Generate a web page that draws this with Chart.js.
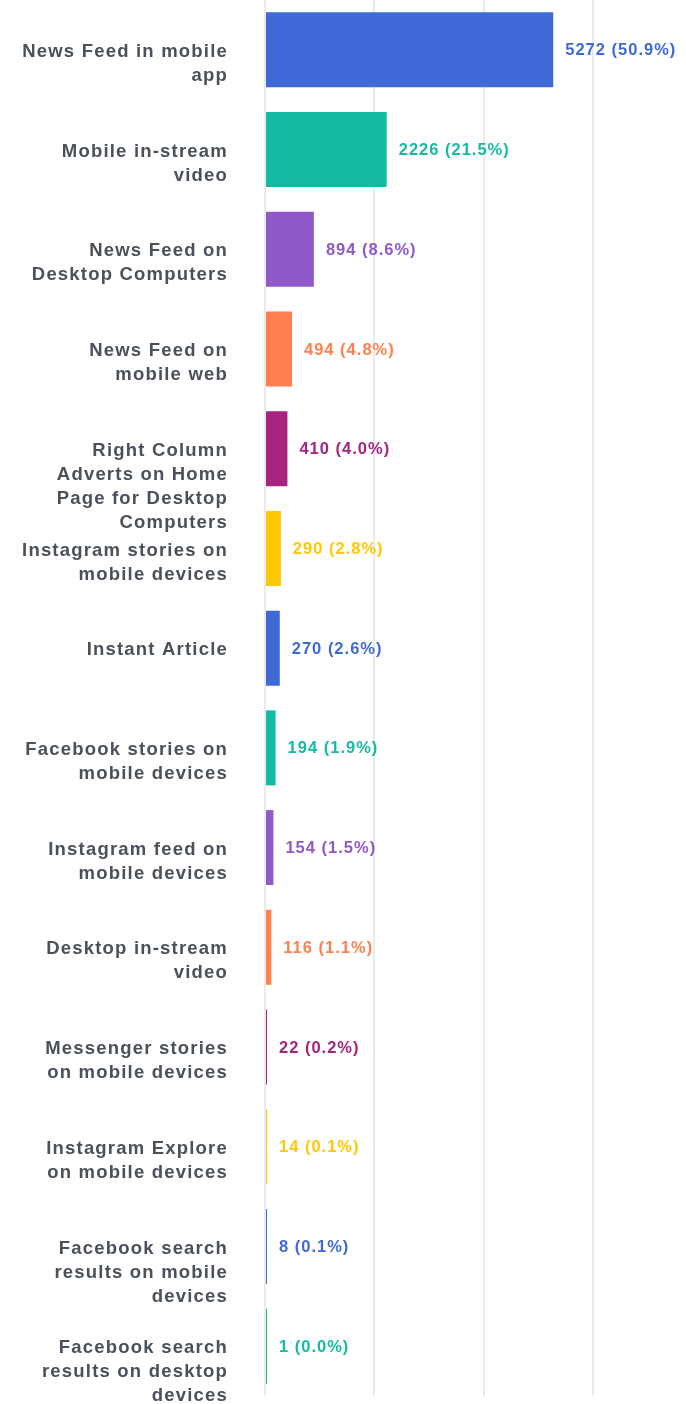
<!DOCTYPE html>
<html><head><meta charset="utf-8">
<script src="https://cdn.jsdelivr.net/npm/chart.js@4"></script>
<style>html,body{margin:0;padding:0;background:#fff}#wrap{width:686px;height:1404px;position:relative}</style>
</head><body><div id="wrap"><canvas id="c"></canvas></div>
<script>
const categories = [
  ["News Feed in mobile","app"],
  ["Mobile in-stream","video"],
  ["News Feed on","Desktop Computers"],
  ["News Feed on","mobile web"],
  ["Right Column","Adverts on Home","Page for Desktop","Computers"],
  ["Instagram stories on","mobile devices"],
  ["Instant Article"],
  ["Facebook stories on","mobile devices"],
  ["Instagram feed on","mobile devices"],
  ["Desktop in-stream","video"],
  ["Messenger stories","on mobile devices"],
  ["Instagram Explore","on mobile devices"],
  ["Facebook search","results on mobile","devices"],
  ["Facebook search","results on desktop","devices"]
];
const values = [5272,2226,894,494,410,290,270,194,154,116,22,14,8,1];
const percents = ["50.9","21.5","8.6","4.8","4.0","2.8","2.6","1.9","1.5","1.1","0.2","0.1","0.1","0.0"];
const palette = ["#3e69d6","#14bba1","#9058c8","#ff7f50","#a6237f","#ffc800"];
const xTicks = [0,2000,4000,6000];

const FONT = '"Liberation Sans", Arial, Helvetica, sans-serif';

const spacingPlugin = {
  id: 'spacing',
  beforeDraw(chart){ chart.ctx.letterSpacing = '1.2px'; },
  afterDraw(chart){ chart.ctx.letterSpacing = '0px'; }
};

const valueLabels = {
  id: 'valueLabels',
  afterDatasetsDraw(chart){
    const ctx = chart.ctx;
    const meta = chart.getDatasetMeta(0);
    ctx.save();
    ctx.font = 'bold 16.5px ' + FONT;
    ctx.letterSpacing = '1px';
    ctx.textBaseline = 'middle';
    ctx.textAlign = 'left';
    meta.data.forEach((bar, i) => {
      ctx.fillStyle = palette[i % palette.length];
      ctx.fillText(values[i] + ' (' + percents[i] + '%)', bar.x + 12, bar.y + 1);
    });
    ctx.restore();
  }
};

new Chart(document.getElementById('c'), {
  type: 'bar',
  data: {
    labels: categories.map(l => l.join(' ')),
    datasets: [{
      data: values,
      backgroundColor: values.map((v, i) => palette[i % palette.length]),
      borderWidth: 0,
      minBarLength: 2,
      barPercentage: 0.752,
      categoryPercentage: 1
    }]
  },
  options: {
    indexAxis: 'y',
    responsive: true,
    maintainAspectRatio: false,
    animation: false,
    layout: { padding: { top: 0, right: 0, bottom: 8, left: 0 } },
    plugins: { legend: { display: false }, tooltip: { enabled: false } },
    scales: {
      x: {
        min: 0,
        max: 7700,
        afterBuildTicks: s => { s.ticks = xTicks.map(v => ({ value: v })); },
        afterFit: s => { s.height = 0; s.paddingLeft = 0; s.paddingRight = 0; },
        ticks: { display: false },
        grid: { color: '#ebebeb', lineWidth: 2, drawTicks: false },
        border: { display: false }
      },
      y: {
        afterFit: s => { s.width = 265; s.paddingTop = 0; s.paddingBottom = 0; },
        grid: { display: false, drawTicks: false },
        border: { display: false },
        ticks: {
          autoSkip: false,
          padding: 37,
          labelOffset: 2,
          color: '#4a5159',
          font: { family: FONT, size: 18.5, weight: 'bold', lineHeight: 1.3 },
          callback: (v, i) => {
            const l = categories[i];
            return Array(l.length - 1).fill('').concat(l);
          }
        }
      }
    }
  },
  plugins: [spacingPlugin, valueLabels]
});
</script>
</body></html>
